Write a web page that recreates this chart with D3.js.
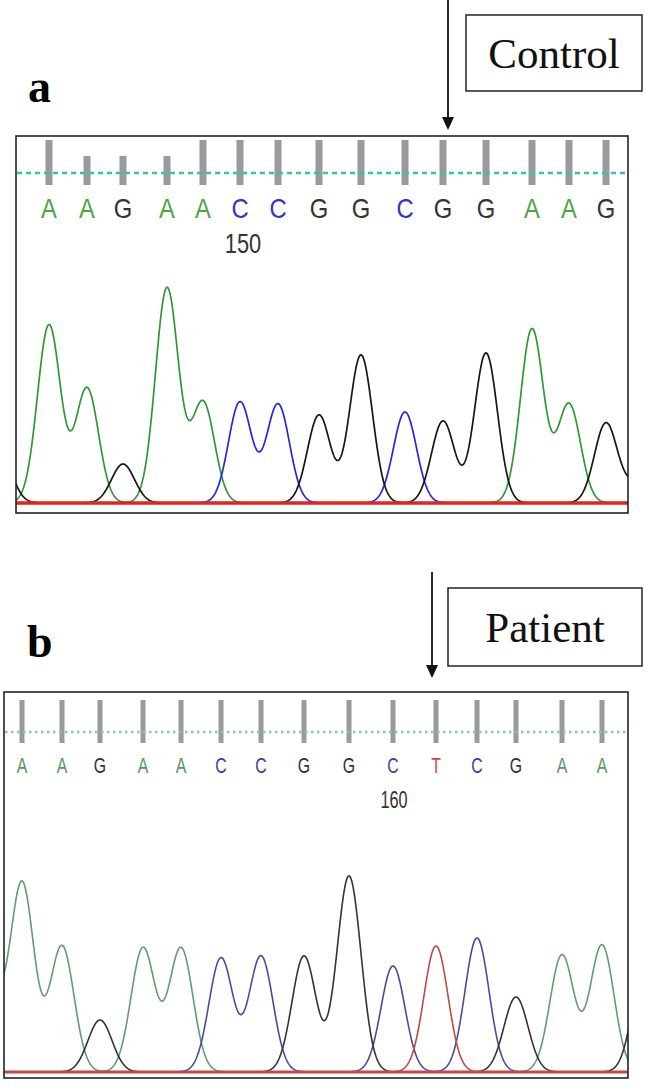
<!DOCTYPE html>
<html><head><meta charset="utf-8">
<script src="https://cdn.jsdelivr.net/npm/d3@7"></script>
<style>body{margin:0;background:#fff}svg{display:block}</style>
</head><body><svg id="c" width="646" height="1089"></svg>
<script>
// ---------- DATA: panel a (Control) ----------
const basesA   = ['A','A','G','A','A','C','C','G','G','C','G','G','A','A','G'];
const peakA    = [33, 71, 107, 151, 187, 224, 262, 303, 345, 389, 427, 470, 516, 553, 590]; // scan position
const heightA  = [178, 115, 39, 215, 101, 101, 99, 88, 148, 91, 82, 150, 174, 99, 80];    // signal
const qualA    = [48, 31, 31, 31, 48, 48, 48, 48, 48, 48, 48, 48, 48, 48, 48];
const flankBasesA  = ['G', 'G'];
const flankPeakA   = [-16, 622];
const flankHeightA = [50, 20];
const tickLabelA = '150', tickIndexA = 5;
const titleA = 'Control', panelA = 'a';

// ---------- DATA: panel b (Patient) ----------
const basesB   = ['A','A','G','A','A','C','C','G','G','C','T','C','G','A','A'];
const peakB    = [18, 58, 96, 139, 177, 217, 257, 300, 345, 389, 432, 473, 512, 558, 598];
const heightB  = [189, 126, 52, 124, 124, 114, 116, 116, 196, 106, 126, 134, 75, 117, 127];
const qualB    = [48, 48, 48, 48, 48, 48, 48, 48, 48, 48, 48, 48, 48, 48, 48];
const flankBasesB  = ['A', 'G'];
const flankPeakB   = [-16, 641];
const flankHeightB = [90, 110];
const tickLabelB = '160', tickIndexB = 9;
const titleB = 'Patient', panelB = 'b';

const svg = d3.select('#c');

function drawPanel(cfg, d) {
  const g = svg.append('g');
  const x = d3.scaleLinear().domain(cfg.scanDomain).range([cfg.x0, cfg.x1]);
  const y = d3.scaleLinear().domain([0, 250]).range([cfg.baseY, cfg.baseY - 250]);
  const q = d3.scaleLinear().domain([0, 48]).range([0, cfg.barLen]);

  const cid = 'clip' + cfg.id;
  svg.append('defs').append('clipPath').attr('id', cid)
    .append('rect').attr('x', cfg.x0).attr('y', cfg.y0)
    .attr('width', cfg.x1 - cfg.x0).attr('height', cfg.y1 - cfg.y0);

  const peaks = d.bases.map((b, i) => ({b, p: d.peak[i], h: d.height[i]}))
    .concat(d.flankBases.map((b, i) => ({b, p: d.flankPeak[i], h: d.flankHeight[i]})));
  const samples = d3.range(cfg.scanDomain[0] - 2, cfg.scanDomain[1] + 2.01, 0.5);
  const line = d3.line().x(s => x(s[0])).y(s => y(s[1]));
  const tg = g.append('g').attr('clip-path', `url(#${cid})`);
  ['A', 'C', 'G', 'T'].forEach(ch => {
    const pk = peaks.filter(p => p.b === ch);
    const pts = samples.map(s => [s, d3.sum(pk, p => p.h * Math.exp(-((s - p.p) ** 2) / (2 * cfg.sigma * cfg.sigma)))]);
    tg.append('path').attr('d', line(pts)).attr('fill', 'none')
      .attr('stroke', cfg.traceColor[ch])
      .attr('stroke-width', cfg.traceWidth)
      .attr('stroke-linejoin', 'round');
  });
  // zero line of the T channel (baseline)
  tg.append('line').attr('x1', cfg.x0).attr('x2', cfg.x1)
    .attr('y1', y(0)).attr('y2', y(0))
    .attr('stroke', cfg.traceColor.T).attr('stroke-width', cfg.baseWidth);

  // quality bars
  g.selectAll('rect.q').data(d.qual).join('rect')
    .attr('x', (v, i) => x(d.peak[i]) - cfg.barW / 2)
    .attr('y', v => cfg.barBase - q(v))
    .attr('width', cfg.barW).attr('height', v => q(v))
    .attr('fill', '#9a9a9a');

  // dashed threshold line
  g.append('line').attr('x1', cfg.x0 + 1).attr('x2', cfg.x1 - 1)
    .attr('y1', cfg.dashY).attr('y2', cfg.dashY)
    .attr('stroke', cfg.dashColor).attr('stroke-width', 2.5)
    .attr('stroke-dasharray', cfg.dashArray);

  // base letters
  g.selectAll('text.base').data(d.bases).join('text')
    .attr('transform', (b, i) => `translate(${x(d.peak[i])},${cfg.letterY}) scale(${cfg.letterSX},1)`)
    .attr('text-anchor', 'middle')
    .attr('font-family', 'Liberation Sans, Arial, sans-serif')
    .attr('font-size', cfg.letterSize)
    .attr('fill', b => cfg.letterColor[b])
    .text(b => b);

  // position label
  g.append('text')
    .attr('transform', `translate(${x(d.peak[d.tickIndex]) + cfg.tickDx},${cfg.tickY}) scale(${cfg.tickSX},1)`)
    .attr('text-anchor', 'middle')
    .attr('font-family', 'Liberation Sans, Arial, sans-serif')
    .attr('font-size', cfg.tickSize).attr('fill', '#333')
    .text(d.tickLabel);

  // frame
  g.append('rect').attr('x', cfg.x0).attr('y', cfg.y0)
    .attr('width', cfg.x1 - cfg.x0).attr('height', cfg.y1 - cfg.y0)
    .attr('fill', 'none').attr('stroke', '#222').attr('stroke-width', 1.6);

  // panel letter
  g.append('text').attr('x', cfg.labX).attr('y', cfg.labY)
    .attr('font-family', 'Liberation Serif, Times New Roman, serif')
    .attr('font-weight', 'bold').attr('font-size', 46).attr('fill', '#000')
    .text(d.panel);

  // title box
  g.append('rect').attr('x', cfg.boxX).attr('y', cfg.boxY).attr('width', cfg.boxW).attr('height', cfg.boxH)
    .attr('fill', '#fff').attr('stroke', '#222').attr('stroke-width', 1.5);
  g.append('text').attr('x', cfg.boxX + cfg.boxW / 2).attr('y', cfg.boxY + cfg.boxH / 2 + 15)
    .attr('text-anchor', 'middle')
    .attr('font-family', 'Liberation Serif, Times New Roman, serif')
    .attr('font-size', 43).attr('fill', '#111')
    .text(d.title);

  // arrow
  g.append('line').attr('x1', cfg.arrX).attr('x2', cfg.arrX).attr('y1', cfg.arrY0).attr('y2', cfg.arrY1 - 10)
    .attr('stroke', '#111').attr('stroke-width', 1.8);
  g.append('path')
    .attr('d', `M${cfg.arrX - 6},${cfg.arrY1 - 13}L${cfg.arrX + 6},${cfg.arrY1 - 13}L${cfg.arrX},${cfg.arrY1}Z`)
    .attr('fill', '#111');
}

drawPanel({
  id: 'a', scanDomain: [0, 612], x0: 16, x1: 628, y0: 136, y1: 513, baseY: 503,
  sigma: 11.5, traceWidth: 1.7, baseWidth: 3.4,
  traceColor: {A: '#2f9a35', C: '#2626e6', G: '#151515', T: '#e8211f'},
  letterColor: {A: '#4ea443', C: '#3333d8', G: '#333333', T: '#d83030'},
  barW: 7, barBase: 185, barLen: 45,
  dashY: 173, dashColor: '#2cc6b0', dashArray: '5,4',
  letterY: 218, letterSize: 28, letterSX: 0.85,
  tickY: 253, tickSize: 28, tickSX: 0.78, tickDx: 3,
  labX: 28, labY: 102,
  boxX: 466, boxY: 15, boxW: 176, boxH: 76,
  arrX: 448, arrY0: 0, arrY1: 130
}, {bases: basesA, peak: peakA, height: heightA, qual: qualA,
    flankBases: flankBasesA, flankPeak: flankPeakA, flankHeight: flankHeightA,
    tickLabel: tickLabelA, tickIndex: tickIndexA, title: titleA, panel: panelA});

drawPanel({
  id: 'b', scanDomain: [0, 624], x0: 4, x1: 628, y0: 692, y1: 1078, baseY: 1072,
  sigma: 12, traceWidth: 1.6, baseWidth: 2.8,
  traceColor: {A: '#5f9e72', C: '#4a4aa6', G: '#333333', T: '#bf4a4a'},
  letterColor: {A: '#4f9a5c', C: '#3c3ca8', G: '#333333', T: '#d04a4a'},
  barW: 5, barBase: 743, barLen: 43,
  dashY: 732, dashColor: '#84c4cc', dashArray: '2.5,3.5',
  letterY: 773, letterSize: 22, letterSX: 0.72,
  tickY: 808, tickSize: 24, tickSX: 0.68, tickDx: 1,
  labX: 27, labY: 657,
  boxX: 448, boxY: 588, boxW: 194, boxH: 78,
  arrX: 432, arrY0: 572, arrY1: 678
}, {bases: basesB, peak: peakB, height: heightB, qual: qualB,
    flankBases: flankBasesB, flankPeak: flankPeakB, flankHeight: flankHeightB,
    tickLabel: tickLabelB, tickIndex: tickIndexB, title: titleB, panel: panelB});
</script>
</body></html>
